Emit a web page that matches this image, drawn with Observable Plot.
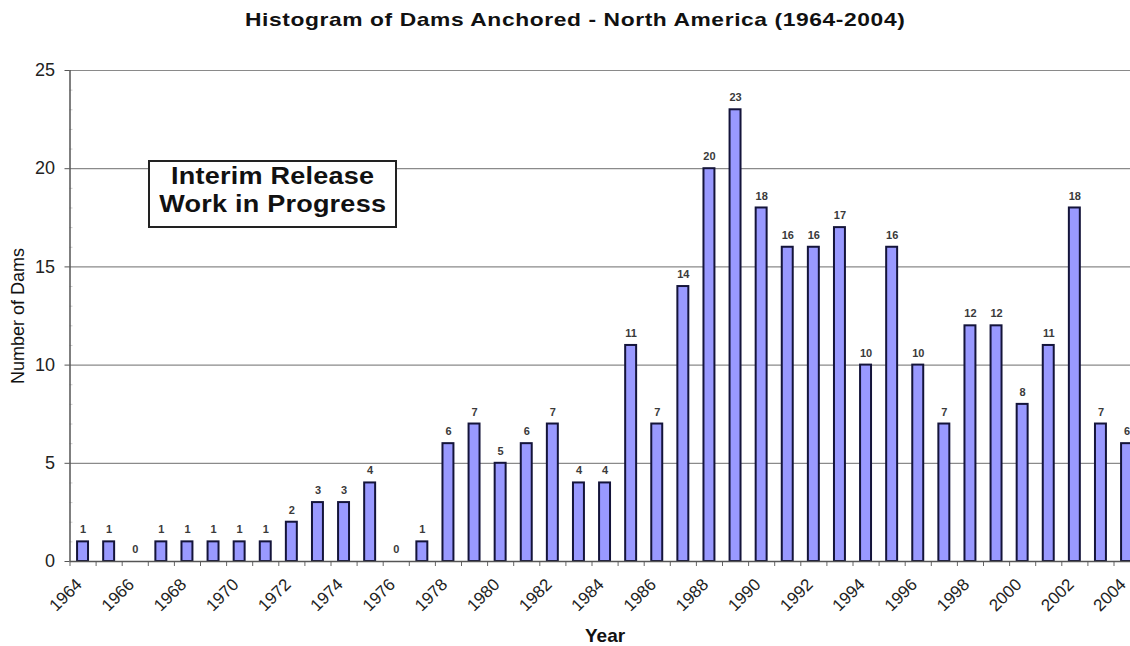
<!DOCTYPE html>
<html>
<head>
<meta charset="utf-8">
<script src="https://cdn.jsdelivr.net/npm/d3@7"></script>
<script src="https://cdn.jsdelivr.net/npm/@observablehq/plot@0.6"></script>
<style>
  html, body { margin: 0; padding: 0; background: #fff; overflow: hidden; }
  #wrap { position: relative; width: 1130px; height: 646px; font-family: "Liberation Sans", Arial, sans-serif; }
  #title { height: 40px; line-height: 40px; text-align: center; padding-left: 20px; box-sizing: border-box; }
  #title span { display: inline-block; transform: scaleX(1.2); font-weight: bold; font-size: 19px; letter-spacing: 0.5px; color: #111; }
  #note { position: absolute; left: 148px; top: 160px; width: 249px; height: 68px; box-sizing: border-box; border: 2px solid #222; background: #fff; text-align: center; padding-top: 0px; }
  #note span { display: inline-block; transform: scaleX(1.15); font-weight: bold; font-size: 23.5px; letter-spacing: 0.2px; line-height: 28px; color: #111; }
  #chart svg { overflow: hidden; }
</style>
</head>
<body>
<div id="wrap">
  <div id="title"><span>Histogram of Dams Anchored - North America (1964-2004)</span></div>
  <div id="chart"></div>
  <div id="note"><span>Interim Release<br>Work in Progress</span></div>
</div>
<script>
const years = d3.range(1964, 2005);
const counts = [1, 1, 0, 1, 1, 1, 1, 1, 2, 3, 3, 4, 0, 1, 6, 7, 5, 6, 7, 4, 4, 11, 7, 14, 20, 23, 18, 16, 16, 17, 10, 16, 10, 7, 12, 12, 8, 11, 18, 7, 6];
const yTicks = [0, 5, 10, 15, 20, 25];
const tickYears = years.filter(y => y % 2 === 0);

const data = years.map((year, i) => ({year, count: counts[i]}));
const xMin = years[0] - 0.5, xMax = years[years.length - 1] + 0.5;
const boundaries = d3.range(xMin, xMax + 0.01, 1);
const minor = d3.range(0, 26).filter(v => v % 5 !== 0);

const chart = Plot.plot({
  width: 1130,
  height: 606,
  marginLeft: 69.5,
  marginRight: -9.6,
  marginTop: 30,
  marginBottom: 85,
  style: {fontFamily: "Liberation Sans, Arial, sans-serif", background: "white"},
  x: {domain: [xMin, xMax], axis: null},
  y: {domain: [0, 25], axis: null},
  marks: [
    Plot.ruleY(yTicks.filter(v => v > 0), {stroke: "#8a8a8a", strokeWidth: 1.2}),
    Plot.axisY({ticks: yTicks, tickSize: 5, tickPadding: 10, fontSize: 18, stroke: "#555", color: "#222", label: null}),
    Plot.axisY({ticks: minor, tickSize: -3, tickFormat: () => "", stroke: "#ccc", label: null}),
    Plot.axisX({ticks: boundaries, tickSize: 5, tickFormat: () => "", stroke: "#666", label: null}),
    Plot.rectY(data, {x1: d => d.year - 0.21, x2: d => d.year + 0.21, y: "count", fill: "#9999ff", stroke: "#14143a", strokeWidth: 2}),
    Plot.ruleY([0], {stroke: "#555", strokeWidth: 1.5}),
    Plot.ruleX([xMin], {y1: 0, y2: 25, stroke: "#555", strokeWidth: 1.5}),
    Plot.text(data, {x: "year", y: "count", text: d => String(d.count), dy: -12, fontSize: 11, fontWeight: "bold", fill: "#3a3a3a"}),
    Plot.text(tickYears, {x: d => d, frameAnchor: "bottom", dy: 24, rotate: -45, textAnchor: "end", fontSize: 17, letterSpacing: 0.6, fill: "#222", text: d => String(d)}),
    Plot.text(["Year"], {frameAnchor: "bottom", dy: 80, fontSize: 19, letterSpacing: 1, fontWeight: "bold", fill: "#111"}),
    Plot.text(["Number of Dams"], {frameAnchor: "left", textAnchor: "middle", dx: -51.5, rotate: -90, fontSize: 18, letterSpacing: 2, fill: "#111"})
  ]
});
document.getElementById("chart").appendChild(chart);
</script>
</body>
</html>
